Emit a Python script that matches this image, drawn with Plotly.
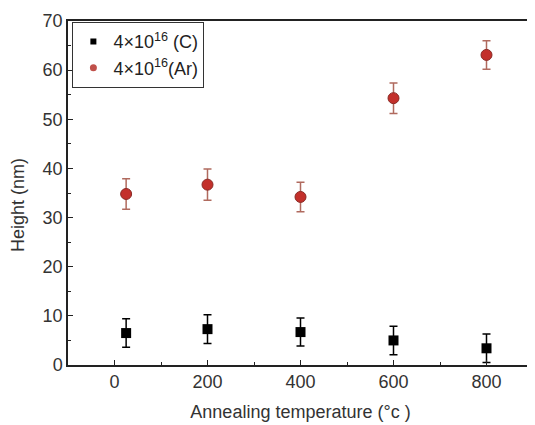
import plotly.graph_objects as go

temps_c = [25, 200, 400, 600, 800]
height_c = [6.5, 7.3, 6.7, 5.0, 3.4]
err_c = [2.9, 2.9, 2.85, 2.9, 2.9]

temps_ar = [25, 200, 400, 600, 800]
height_ar = [34.8, 36.7, 34.2, 54.3, 63.1]
err_ar = [3.1, 3.2, 3.0, 3.1, 2.9]

x_ticks = [0, 200, 400, 600, 800]
y_ticks = [0, 10, 20, 30, 40, 50, 60, 70]

name_c = "4×10<sup>16</sup> (C)"
name_ar = "4×10<sup>16</sup>(Ar)"
x_title = "Annealing temperature (°c )"
y_title = "Height (nm)"

font = "Liberation Sans, Arial, sans-serif"
red = "#c3302b"
txt = "#333"

fig = go.Figure()
fig.add_trace(go.Scatter(
    x=temps_c, y=height_c, mode="markers", showlegend=False,
    marker=dict(symbol="square", size=10, color="black"),
    error_y=dict(type="data", array=err_c, color="black", thickness=1.5, width=4),
))
fig.add_trace(go.Scatter(
    x=temps_ar, y=height_ar, mode="markers", showlegend=False,
    marker=dict(symbol="circle", size=11, color=red,
                line=dict(color="#8a2a25", width=1)),
    error_y=dict(type="data", array=err_ar, color="#b06a5e", thickness=1.5, width=4),
))
# legend entries (small symbols as in the reference)
fig.add_trace(go.Scatter(x=[None], y=[None], mode="markers", name=name_c,
                         marker=dict(symbol="square", size=6, color="black")))
fig.add_trace(go.Scatter(x=[None], y=[None], mode="markers", name=name_ar,
                         marker=dict(symbol="circle", size=7, color="#c0504a")))

axis_common = dict(
    showline=True, linecolor="#222", linewidth=1.5, mirror=True,
    ticks="inside", ticklen=5, tickwidth=1.2, tickcolor="#222",
    showgrid=False, zeroline=False, automargin=False,
    tickfont=dict(family=font, size=18, color=txt),
)

fig.update_layout(
    width=535, height=425,
    margin=dict(l=60, r=10, t=13, b=68),
    paper_bgcolor="white", plot_bgcolor="white",
    font=dict(family=font, color=txt),
    showlegend=True,
    legend=dict(x=0.009, y=0.997, xanchor="left", yanchor="top",
                bordercolor="#333", borderwidth=1.2, bgcolor="white",
                font=dict(family=font, size=18, color="#222"),
                itemwidth=30, tracegroupgap=0),
    xaxis=dict(range=[-100, 900], tickvals=x_ticks,
               minor=dict(ticks="inside", dtick=100, ticklen=3, tickcolor="#222"),
               title=dict(text=x_title, font=dict(family=font, size=18, color=txt), standoff=14),
               **axis_common),
    yaxis=dict(range=[0, 70], tickvals=y_ticks,
               minor=dict(ticks="inside", dtick=5, ticklen=3, tickcolor="#222"),
               **axis_common),
    annotations=[dict(text=y_title, textangle=-90, xref="paper", yref="paper",
                      x=0, y=0.465, xanchor="center", yanchor="middle", xshift=-50,
                      showarrow=False, font=dict(family=font, size=18, color=txt))],
)

fig.write_html("out.html")
